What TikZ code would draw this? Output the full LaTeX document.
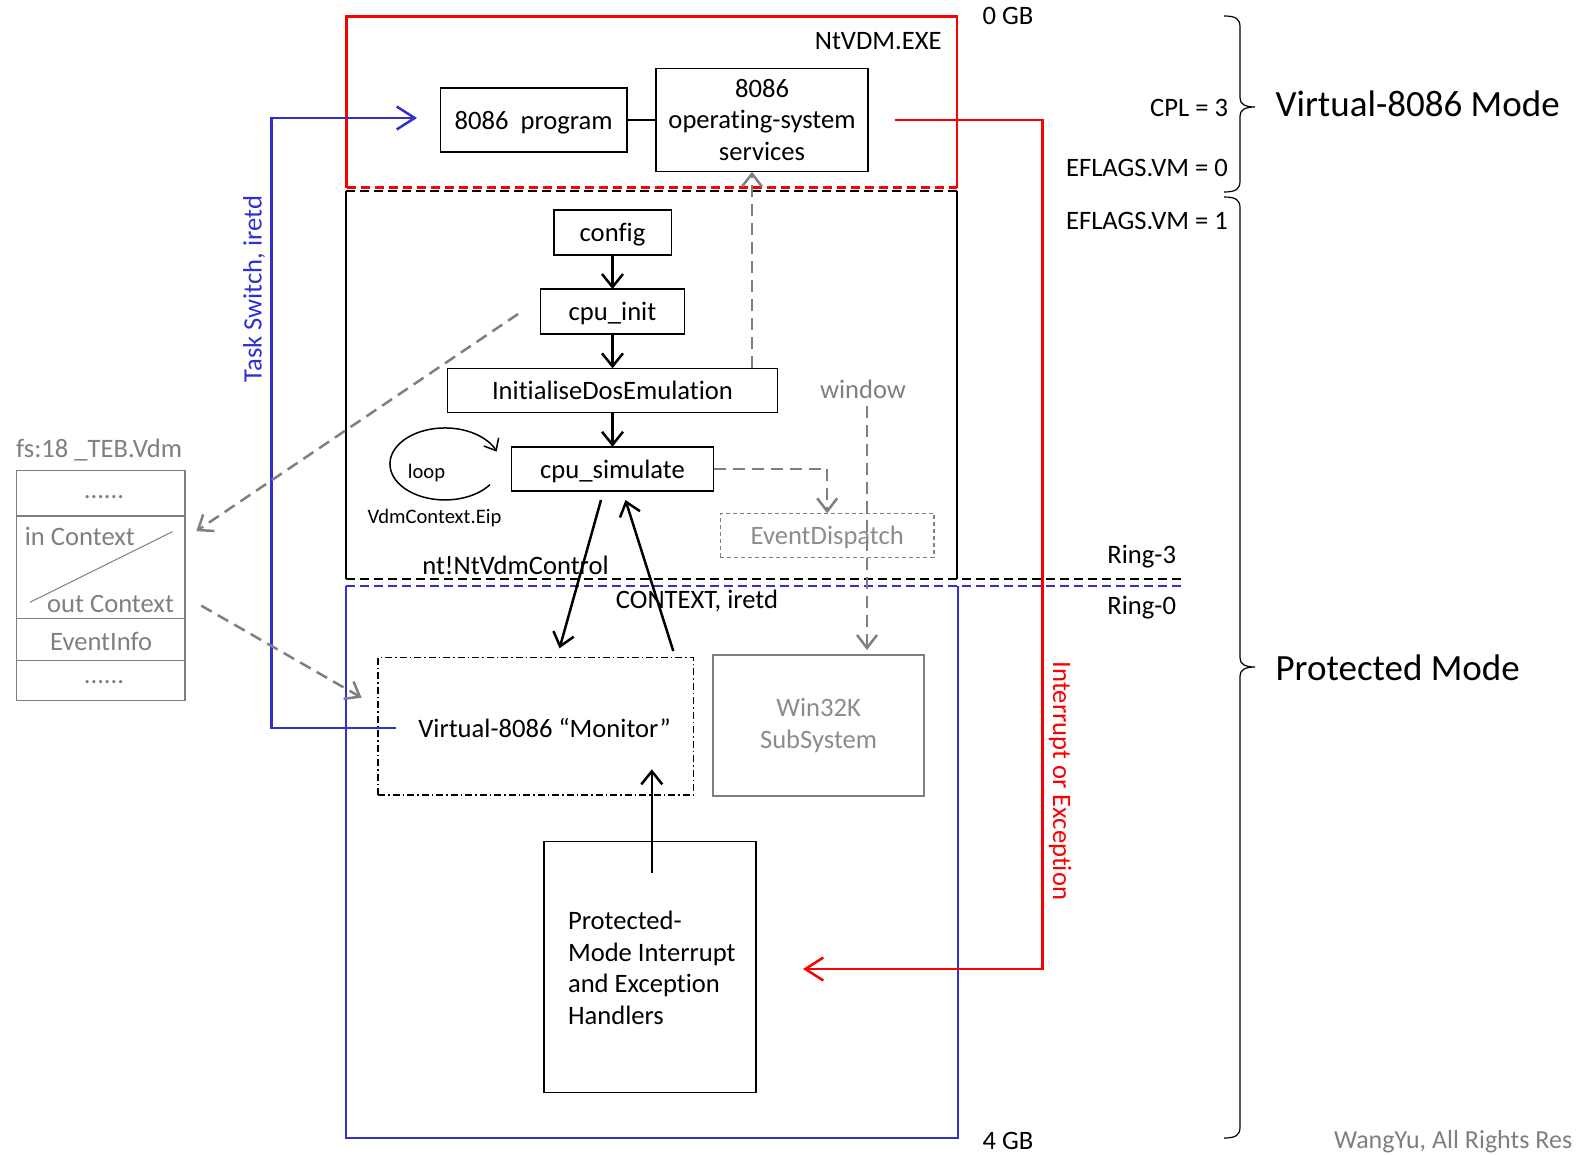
\documentclass[tikz,border=0pt]{standalone}
\usepackage{fontspec}
\setmainfont[Ligatures=NoCommon]{Carlito}
\usetikzlibrary{arrows.meta}
\definecolor{vred}{RGB}{250,0,0}
\definecolor{vblue}{RGB}{48,48,208}
\definecolor{vgray}{RGB}{127,127,127}
\definecolor{vlgray}{RGB}{140,140,140}
\newcommand\vdmbig{\fontsize{37}{44}\selectfont}
\newcommand\vdmsmall{\fontsize{20.6}{25}\selectfont}
\begin{document}
\begin{tikzpicture}[x=1pt,y=-1pt,
  every node/.style={font=\fontsize{26.6}{31.7}\selectfont, inner sep=0pt, outer sep=0pt},
  one/.style={text height=19pt, text depth=0.5pt},
  box/.style={draw, line width=1.5pt},
  grey box/.style={draw=vgray, line width=1.5pt},
  sepdash/.style={dash pattern=on 9pt off 5pt},
  arr/.style={line width=2.5pt, -{Straight Barb[length=13pt,width=21pt]}},
  garr/.style={vgray, line width=2.5pt, dash pattern=on 12pt off 7pt, -{Straight Barb[length=13pt,width=20pt]}},
  flow/.style={line width=2.5pt, -{Straight Barb[length=18pt,width=23pt]}},
]
\useasboundingbox (0,0) rectangle (1578,1155);

% address-space regions
\draw[vred, line width=2.5pt] (346.5,187.7) -- (346.5,16.7) -- (957,16.7) -- (957,187.7);
\draw[vred, line width=2.5pt, sepdash] (346.5,187.7) -- (957,187.7);
\draw[line width=2pt, sepdash] (346,191) -- (957,191);
\draw[line width=2pt] (346,191) -- (346,579) (957,191) -- (957,579);
\draw[line width=2pt, sepdash] (346,579) -- (1183,579);
\draw[vblue, line width=2pt, sepdash] (346,585.7) -- (1183,585.7);
\draw[vblue, line width=2pt] (346,585.7) -- (346,1138.3) -- (957.5,1138.3) -- (957.5,585.7);

% boxes
\node[box, one, minimum width=186.6pt, minimum height=64pt] (prog) at (533.6,120) {8086\ \ program};
\node[box, align=center, minimum width=212pt, minimum height=103.3pt] (ossvc) at (762,120) {8086\\operating-system\\services};
\node[box, one, minimum width=117.5pt, minimum height=45pt] (config) at (612.5,232.5) {config};
\node[box, one, minimum width=144.3pt, minimum height=45pt] (cpuinit) at (612.5,311.5) {cpu\_init};
\node[box, one, minimum width=330pt, minimum height=44.4pt] (ide) at (612.5,390.5) {InitialiseDosEmulation};
\node[box, one, minimum width=202pt, minimum height=44.3pt] (cpusim) at (612.5,468.9) {cpu\_simulate};
\node[draw=vgray, line width=1.2pt, dash pattern=on 4pt off 3pt, text=vlgray, one, minimum width=213.6pt, minimum height=44pt] (evd) at (827.2,535.3) {EventDispatch};
\node[draw, line width=1.3pt, dash pattern=on 7pt off 3pt on 1.5pt off 3pt, minimum width=315.2pt, minimum height=137.7pt] (monitor) at (535.7,726.2) {};
\node[anchor=base] (montext) at (544.6,737.3) {Virtual-8086 “Monitor”};
\node[grey box, text=vlgray, align=center, minimum width=211pt, minimum height=140.7pt] (win32k) at (818.6,725.4) {Win32K\\SubSystem};
\node[box, minimum width=212pt, minimum height=250.6pt] (handlers) at (650,967) {};
\node[align=left, anchor=north west] (htext) at (568,911) {Protected-\\Mode Interrupt\\and Exception\\Handlers};

% _TEB.Vdm layout
\node[anchor=base, text=vgray] (tebtitle) at (99.1,457) {fs:18 \_TEB.Vdm};
\node[grey box, minimum width=168.4pt, minimum height=45.3pt] (teba) at (100.8,493.35) {};
\node[grey box, minimum width=168.4pt, minimum height=102.3pt] (tebb) at (100.8,567.15) {};
\node[grey box, minimum width=168.4pt, minimum height=42.4pt] (tebc) at (100.8,639.5) {};
\node[grey box, minimum width=168.4pt, minimum height=40pt] (tebd) at (100.8,680.7) {};
\node[anchor=base, text=vgray] (dotsa) at (104,498.5) {......};
\node[anchor=base west, text=vgray] (inctx) at (24.9,545) {in Context};
\node[anchor=base east, text=vgray] (outctx) at (174,612.7) {out Context};
\node[anchor=base, text=vgray] (evinfo) at (101.2,650.7) {EventInfo};
\node[anchor=base, text=vgray] (dotsb) at (104,683.3) {......};
\draw[vgray, line width=1pt] ([xshift=13.3pt,yshift=16pt]tebb.south west) -- ([xshift=-12.5pt,yshift=-15.7pt]tebb.north east);

% labels
\node[anchor=base east] (ntvdm) at (941.6,49.3) {NtVDM.EXE};
\node[anchor=base west] (gb0) at (982.7,25) {0 GB};
\node[anchor=base west] (gb4) at (982.7,1149) {4 GB};
\node[anchor=base] (ntctl) at (515.5,574) {nt!NtVdmControl};
\node[anchor=base] (ctxiretd) at (697,608.3) {CONTEXT, iretd};
\node[anchor=base, text=vgray] (window) at (863,398) {window};
\node[anchor=base, font=\vdmsmall] (loop) at (426.5,478.3) {loop};
\node[anchor=base, font=\vdmsmall] (eip) at (434.5,523.3) {VdmContext.Eip};
\node[anchor=base, rotate=90, text=vblue] (taskswitch) at (261.5,289.2) {Task Switch, iretd};
\node[anchor=base, rotate=-90, text=vred] (intexc) at (1053,781) {Interrupt or Exception};
\node[anchor=base east] (cpl) at (1228,116.7) {CPL = 3};
\node[anchor=base east] (vm0) at (1228,176.7) {EFLAGS.VM = 0};
\node[anchor=base east] (vm1) at (1228,230) {EFLAGS.VM = 1};
\node[anchor=base west, font=\vdmbig] (v86mode) at (1275.6,116.7) {Virtual-8086 Mode};
\node[anchor=base west, font=\vdmbig] (pmode) at (1275.6,680) {Protected Mode};
\node[anchor=base east] (ring3) at (1176,563.3) {Ring-3};
\node[anchor=base east] (ring0) at (1176,614.3) {Ring-0};
\node[anchor=base west, text=vgray, font=\fontsize{26}{31}\selectfont] (wm) at (1334,1148) {WangYu, All Rights Res};

% braces
\draw[line width=1.2pt] (1224,16) .. controls (1236,16) and (1240,19) .. (1240,27) -- (1240,98) .. controls (1240,104) and (1245,107) .. (1255,107) .. controls (1245,107) and (1240,110) .. (1240,116) -- (1240,181) .. controls (1240,189) and (1236,192) .. (1224,192);
\draw[line width=1.2pt] (1224,197) .. controls (1236,197) and (1240,200) .. (1240,208) -- (1240,658) .. controls (1240,664) and (1245,667) .. (1255,667) .. controls (1245,667) and (1240,670) .. (1240,676) -- (1240,1127) .. controls (1240,1135) and (1236,1138) .. (1224,1138);

% connectors
\draw[line width=1.3pt] (prog) -- (ossvc);
\draw[arr] (config) -- (cpuinit);
\draw[arr] (cpuinit) -- (ide);
\draw[arr] (ide) -- (cpusim);
\draw[garr] ([xshift=139.5pt]ide.north) -- ([xshift=-10pt]ossvc.south);
\draw[garr] (cpusim.east) -| (evd.north);
\draw[garr, shorten <=8pt, shorten >=5pt] ([xshift=4pt]window.south) -- ([xshift=48.4pt]win32k.north);
\draw[line width=1.5pt, -{Straight Barb[length=10pt,width=17pt]}] (490,484.6) arc[start angle=35, end angle=340, x radius=55, y radius=36];
\draw[arr, shorten <=9.35pt, shorten >=9.35pt] ([xshift=-9pt]cpusim.south) -- ([xshift=21.3pt]monitor.north);
\draw[arr, shorten <=6.6pt, shorten >=9.44pt] ([xshift=139.6pt]monitor.north) -- ([xshift=10.1pt]cpusim.south);
\draw[arr] ([xshift=1.8pt,yshift=-31pt]handlers.north) -- ([xshift=116.1pt,yshift=25.7pt]monitor.south);
\draw[flow, vblue, shorten >=23.3pt] ([xshift=-22.3pt]montext.west) -| (271.4,118) -- ([yshift=2pt]prog.west);
\draw[flow, vred, shorten >=47pt] ([xshift=26.7pt]ossvc.east) -| (1042.7,969) -- ([yshift=-2pt]handlers.east);
\draw[garr] ([xshift=-22.3pt,yshift=-2.5pt]cpuinit.west) -- ([xshift=11.3pt,yshift=36pt]tebb.east);
\draw[garr] ([xshift=16.3pt,yshift=-38.5pt]tebb.east) -- ([xshift=-16.5pt,yshift=28.5pt]monitor.west);
\end{tikzpicture}
\end{document}
